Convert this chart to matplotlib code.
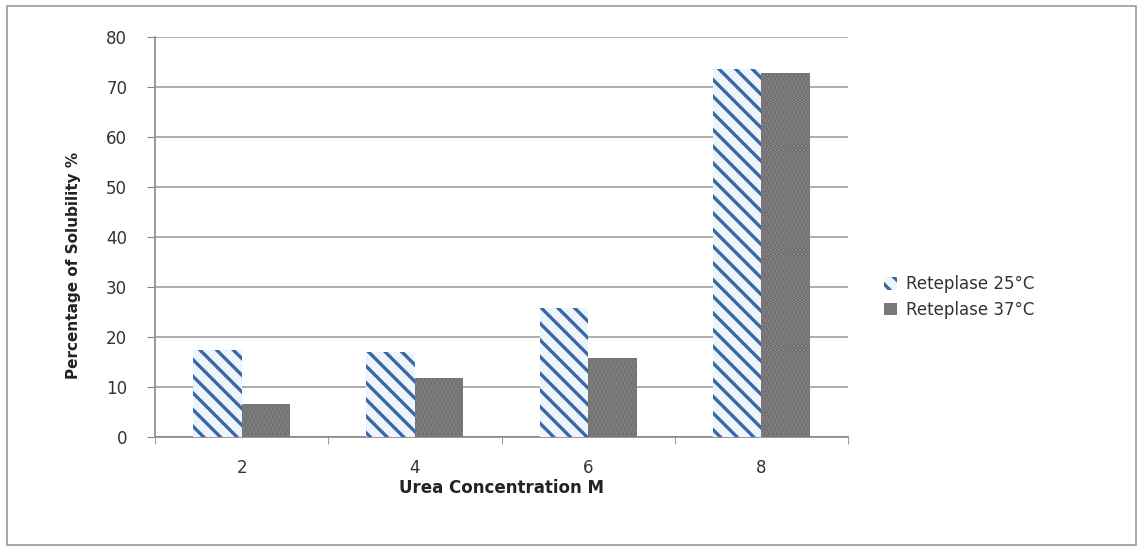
import numpy as np
import matplotlib.pyplot as plt
from matplotlib.patches import Rectangle

# data
concentrations = ["2", "4", "6", "8"]
sol_25 = [17.4, 17.0, 25.8, 73.6]
sol_37 = [6.6, 11.8, 15.8, 72.8]
series_names = ["Reteplase 25°C", "Reteplase 37°C"]

plt.rcParams['hatch.linewidth'] = 2.4

fig = plt.figure(figsize=(11.43, 5.5), dpi=100)
ax = fig.add_axes([0.1356, 0.2055, 0.6064, 0.7272])

# outer chart border
fig.patches.append(Rectangle((0.006, 0.01), 0.988, 0.98, transform=fig.transFigure,
                             fill=False, edgecolor='#9a9a9a', linewidth=1.2))

x = np.arange(len(concentrations))
w = 0.28

b1 = ax.bar(x - w / 2, sol_25, width=w, facecolor='#eef4fb', edgecolor='#3a68a4',
            hatch='\\\\', linewidth=0, label=series_names[0], zorder=3)
b2 = ax.bar(x + w / 2, sol_37, width=w, facecolor='#8a8a8a', linewidth=0,
            label=series_names[1], zorder=3)
for b in b2:
    b.set_hatch('....')
    b.set_edgecolor('#6a6a6a')

ax.set_xlim(-0.5, len(concentrations) - 0.5)
ax.set_ylim(0, 80)
ax.set_yticks(range(0, 81, 10))
ax.set_xticks(x)
ax.set_xticklabels(concentrations)
ax.set_xticks(np.arange(-0.5, len(concentrations), 1), minor=True)
ax.tick_params(axis='x', which='major', length=0, pad=16, labelsize=12, colors='#333333')
ax.tick_params(axis='x', which='minor', length=5, color='#888888')
ax.tick_params(axis='y', length=6, color='#888888', labelsize=12, labelcolor='#333333', pad=14)

ax.yaxis.grid(True, color='#a0a0a0', linewidth=1.2, zorder=0)
ax.set_axisbelow(True)
for s in ['top', 'right']:
    ax.spines[s].set_visible(False)
for s in ['left', 'bottom']:
    ax.spines[s].set_color('#888888')
    ax.spines[s].set_linewidth(1.2)

ax.set_xlabel("Urea Concentration M", fontsize=12, fontweight='bold', color='#222222')
ax.xaxis.set_label_coords(0.5, -0.105)
ax.set_ylabel("Percentage of Solubility %", fontsize=11, fontweight='bold', color='#222222')
ax.yaxis.set_label_coords(-0.107, 0.43)

leg = ax.legend(loc='center left', bbox_to_anchor=(1.03, 0.35), frameon=False,
                fontsize=12, handlelength=0.8, handleheight=0.8, handletextpad=0.5,
                labelspacing=0.45)
for t in leg.get_texts():
    t.set_color('#333333')

fig.savefig("out.png", dpi=100)
